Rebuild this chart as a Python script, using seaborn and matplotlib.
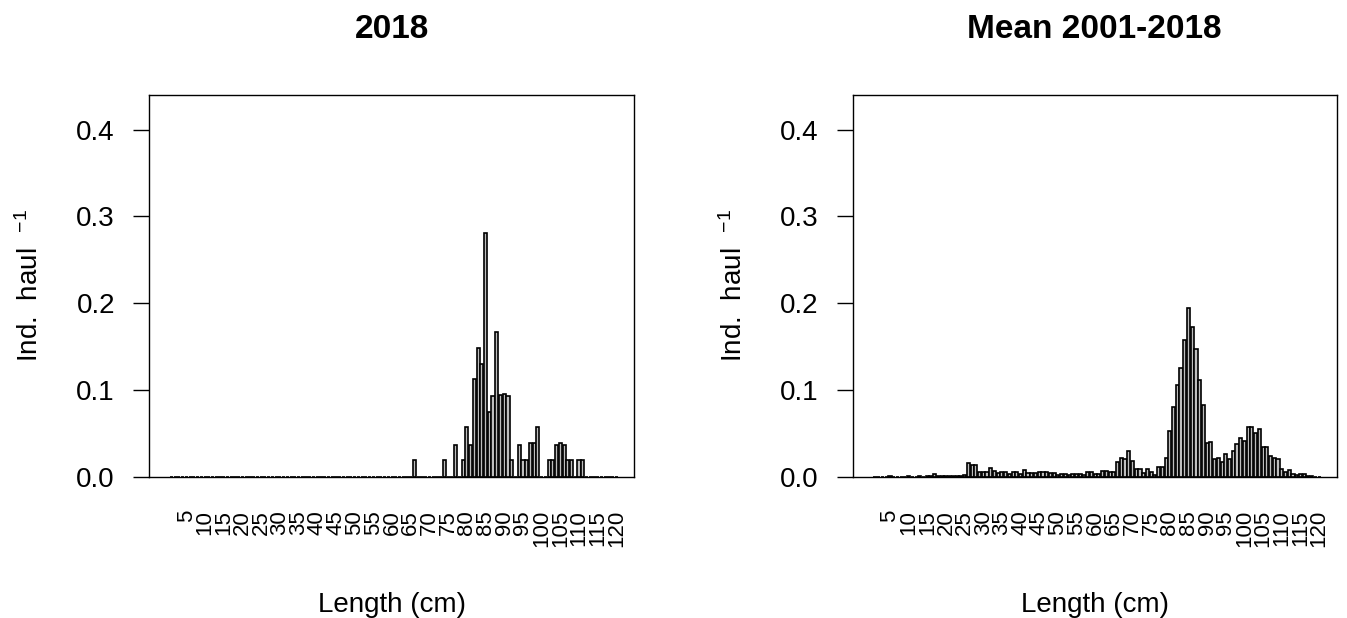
import pandas as pd
import seaborn as sns
import matplotlib.pyplot as plt

sns.set_style("white")
plt.rcParams['font.family'] = ['Liberation Sans', 'DejaVu Sans']
plt.rcParams['mathtext.fontset'] = 'custom'
plt.rcParams['mathtext.rm'] = 'Liberation Sans'
plt.rcParams['mathtext.it'] = 'Liberation Sans'
for key in ['text.color', 'axes.labelcolor', 'xtick.color', 'ytick.color']:
    plt.rcParams[key] = 'black'

# length classes 1..120 cm
lengths = list(range(1, 121))

# Ind. per haul in 2018
catch_2018 = [
    0, 0, 0, 0, 0, 0, 0, 0, 0, 0,
    0, 0, 0, 0, 0, 0, 0, 0, 0, 0,
    0, 0, 0, 0, 0, 0, 0, 0, 0, 0,
    0, 0, 0, 0, 0, 0, 0, 0, 0, 0,
    0, 0, 0, 0, 0, 0, 0, 0, 0, 0,
    0, 0, 0, 0, 0, 0, 0, 0, 0, 0,
    0, 0, 0, 0, 0, 0.0193, 0, 0, 0, 0,
    0, 0, 0, 0.0193, 0, 0, 0.0366, 0, 0.0193, 0.0577,
    0.0366, 0.1123, 0.148, 0.1296, 0.2807, 0.075, 0.093, 0.167, 0.094, 0.0955,
    0.093, 0.0193, 0, 0.0366, 0.0193, 0.0193, 0.0385, 0.0385, 0.0577, 0,
    0, 0.0193, 0.0193, 0.0366, 0.0385, 0.0366, 0.0193, 0.0193, 0, 0.0193,
    0.0193, 0, 0, 0, 0, 0, 0, 0, 0, 0,
]

# mean Ind. per haul 2001-2018
catch_mean = [
    0, 0, 0, 0, 0.0003, 0, 0, 0, 0, 0.0003,
    0, 0, 0.0003, 0, 0.0005, 0.0005, 0.003, 0.0005, 0.0005, 0.0003,
    0.0005, 0.0005, 0.0005, 0.001, 0.0015, 0.016, 0.0135, 0.0135, 0.0058, 0.0058,
    0.0058, 0.0096, 0.007, 0.0046, 0.0058, 0.0058, 0.003, 0.0058, 0.0058, 0.003,
    0.0077, 0.004, 0.004, 0.004, 0.0058, 0.0058, 0.0058, 0.0046, 0.004, 0.002,
    0.003, 0.003, 0.002, 0.003, 0.003, 0.003, 0.002, 0.0054, 0.0054, 0.003,
    0.003, 0.007, 0.007, 0.005, 0.005, 0.0173, 0.0219, 0.020, 0.030, 0.0177,
    0.0088, 0.0088, 0.0046, 0.0092, 0.005, 0.002, 0.0115, 0.0115, 0.0215, 0.053,
    0.0807, 0.1057, 0.125, 0.158, 0.194, 0.173, 0.1476, 0.112, 0.0827, 0.0384,
    0.040, 0.020, 0.022, 0.0173, 0.026, 0.021, 0.0296, 0.038, 0.045, 0.041,
    0.0577, 0.0577, 0.0507, 0.055, 0.0346, 0.0346, 0.024, 0.022, 0.0208, 0.0085,
    0.005, 0.0077, 0.003, 0.0015, 0.003, 0.003, 0.001, 0.001, 0, 0,
]

titles = ["2018", "Mean 2001-2018"]
yticks = [0.0, 0.1, 0.2, 0.3, 0.4]

fig = plt.figure(figsize=(13.47, 6.18), dpi=100)
ax1 = fig.add_axes([0.1106, 0.2286, 0.3601, 0.6176])
ax2 = fig.add_axes([0.6330, 0.2286, 0.3593, 0.6176])

for ax, values, title in zip([ax1, ax2], [catch_2018, catch_mean], titles):
    df = pd.DataFrame({'length': lengths, 'n': values})
    sns.barplot(data=df, x='length', y='n', color='#bebebe', saturation=1,
                edgecolor='black', linewidth=1.2, width=1 / 1.2, ax=ax)
    ax.set_xlim(-6.0, 123.7)
    ax.set_ylim(0, 0.44)

    ax.set_yticks(yticks)
    ax.set_yticklabels([f"{v:.1f}" for v in yticks])
    ax.tick_params(axis='y', direction='out', length=11.5, width=1, pad=13,
                   labelsize=20, left=True)
    ax.set_xticks(range(4, 120, 5))
    ax.set_xticklabels([str(v) for v in lengths[4::5]], rotation=90,
                       fontsize=16, va='top')
    ax.tick_params(axis='x', length=0, pad=24)

    for s in ax.spines.values():
        s.set_visible(True)
        s.set_color('black')
        s.set_linewidth(1.0)

    ax.set_xlabel("Length (cm)", fontsize=20, va='baseline')
    ax.xaxis.set_label_coords(0.5, -0.3537)
    ax.set_ylabel(r"Ind.  haul  $^{-1}$", fontsize=20, va='center')
    ax.yaxis.set_label_coords(-0.2454, 0.5)
    ax.set_title(title, fontsize=24, fontweight='bold', y=1.1486, pad=0,
                 va='baseline')

plt.savefig("out.png", dpi=100)
